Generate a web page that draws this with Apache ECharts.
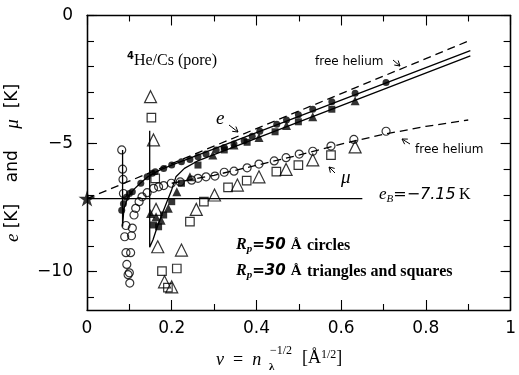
<!DOCTYPE html>
<html>
<head>
<meta charset="utf-8">
<script src="https://cdn.jsdelivr.net/npm/echarts@6/dist/echarts.min.js"></script>
<style>
  html, body { margin: 0; padding: 0; background: #fff; }
  #chart { width: 519px; height: 375px; }
</style>
</head>
<body>
<div id="chart"></div>
<script>
// ---- axis ticks ----
const xTickLabels = [0, 0.2, 0.4, 0.6, 0.8, 1];
const yTickLabels = [-10, -5, 0];
const yMinorTicks = [-11, -10, -9, -8, -7, -6, -5, -4, -3, -2, -1, 0];

// ---- reference values ----
const bindingEnergy = -7.15;          // e_B of a single atom on Cs
const bindingLine = [[0, -7.15], [0.65, -7.15]];
const bindingStar = [[0, -7.15]];

// free-helium energy per particle e(nu) and chemical potential mu(nu)
const eFreeHelium = [[0, -7.15], [0.9, -1.0]];
const muFreeHelium = [[0.2, -6.55], [0.3, -6.24], [0.4, -5.85], [0.5, -5.45], [0.6, -5.02],
                      [0.7, -4.64], [0.8, -4.33], [0.9, -4.08]];

// fitted energy curves: R_p = 50 A and R_p = 30 A pores
const eCurve50 = [[0.084, -5.25], [0.084, -8.25], [0.087, -7.55], [0.097, -7.08], [0.11, -6.8],
                  [0.127, -6.53], [0.145, -6.28], [0.17, -6.05], [0.2, -5.84], [0.905, -1.37]];
const eCurve30 = [[0.148, -4.5], [0.148, -9.05], [0.156, -8.75], [0.165, -8.3], [0.175, -7.85],
                  [0.188, -7.3], [0.2, -6.8], [0.21, -6.3], [0.23, -5.97], [0.26, -5.69], [0.905, -1.58]];

// R_p = 50 A: energy (filled circles) and chemical potential (open circles)
const e50 = [[0.082, -7.6], [0.086, -7.35], [0.093, -7.1], [0.1, -6.95], [0.107, -6.88], [0.127, -6.55],
             [0.142, -6.3], [0.154, -6.16], [0.161, -6.1], [0.181, -5.97], [0.2, -5.84], [0.223, -5.71],
             [0.243, -5.62], [0.262, -5.52], [0.281, -5.41], [0.305, -5.25], [0.324, -5.15], [0.347, -5.02],
             [0.371, -4.89], [0.39, -4.72], [0.408, -4.52], [0.448, -4.25], [0.471, -4.08], [0.499, -3.88],
             [0.533, -3.66], [0.578, -3.37], [0.633, -3.04], [0.706, -2.62]];
const mu50 = [[0.082, -5.25], [0.084, -6.0], [0.085, -6.4], [0.086, -6.95], [0.092, -8.2], [0.107, -8.3],
              [0.089, -8.64], [0.105, -8.6], [0.092, -9.26], [0.103, -9.26], [0.094, -9.72], [0.1, -10.05],
              [0.097, -10.12], [0.101, -10.45], [0.111, -7.79], [0.115, -7.53], [0.123, -7.27], [0.13, -7.08],
              [0.142, -6.92], [0.157, -6.75], [0.169, -6.69], [0.181, -6.64], [0.199, -6.55], [0.22, -6.5],
              [0.247, -6.43], [0.262, -6.36], [0.281, -6.3], [0.302, -6.27], [0.324, -6.12], [0.347, -6.08],
              [0.378, -5.95], [0.406, -5.8], [0.442, -5.68], [0.47, -5.55], [0.501, -5.41], [0.533, -5.3],
              [0.576, -5.1], [0.63, -4.84], [0.706, -4.52]];

// R_p = 30 A: energy (filled triangles / squares) and chemical potential (open triangles / squares)
const e30Triangles = [[0.15, -7.73], [0.163, -7.86], [0.175, -8.0], [0.192, -7.53], [0.212, -6.88],
                      [0.243, -6.3], [0.297, -5.45], [0.347, -5.06], [0.406, -4.76], [0.471, -4.3],
                      [0.533, -3.95], [0.633, -3.33]];
const e30Squares = [[0.157, -8.18], [0.169, -8.25], [0.181, -7.79], [0.2, -7.27], [0.223, -6.55],
                    [0.262, -5.84], [0.324, -5.25], [0.378, -4.95], [0.444, -4.54], [0.499, -4.15],
                    [0.578, -3.66]];
const mu30Triangles = [[0.15, -3.17], [0.157, -4.86], [0.163, -7.57], [0.167, -9.03], [0.183, -10.4],
                       [0.2, -10.6], [0.223, -9.16], [0.258, -7.57], [0.301, -7.01], [0.355, -6.62],
                       [0.406, -6.3], [0.47, -6.01], [0.533, -5.64], [0.633, -5.13]];
const mu30Squares = [[0.152, -3.99], [0.161, -6.36], [0.177, -9.98], [0.191, -10.63], [0.212, -9.88],
                     [0.243, -8.05], [0.276, -7.27], [0.333, -6.71], [0.377, -6.45], [0.447, -6.1],
                     [0.499, -5.84], [0.576, -5.45]];

// ---- styling helpers ----
const INK = '#000';
const SANS = 'DejaVu Sans';
const SERIF = 'Liberation Serif';
const minus = v => (v < 0 ? '\u2212' + Math.abs(v) : String(v));
const STAR = 'path://M0,-1 L0.2245,-0.309 L0.951,-0.309 L0.363,0.118 L0.588,0.809 L0,0.382 L-0.588,0.809 L-0.363,0.118 L-0.951,-0.309 L-0.2245,-0.309 Z';

function curve(data, dashed) {
  return {
    type: 'line', data, symbol: 'none', silent: true, clip: false, z: 2,
    lineStyle: { color: INK, width: 1.3, type: dashed ? [8, 5] : 'solid' }
  };
}
function marks(data, symbol, size, filled) {
  return {
    type: 'scatter', data, symbol, symbolSize: size, clip: false, z: 3,
    itemStyle: filled
      ? { color: INK, borderWidth: 0 }
      : { color: 'rgba(0,0,0,0)', borderColor: INK, borderWidth: 1.2 }
  };
}
function arrow(x1, y1, x2, y2) {
  const a = Math.atan2(y2 - y1, x2 - x1), h = 5, w = 3;
  const bx = x2 - h * Math.cos(a), by = y2 - h * Math.sin(a);
  return [
    { type: 'line', shape: { x1, y1, x2, y2 }, style: { stroke: INK, lineWidth: 1 } },
    { type: 'polyline', shape: { points: [[bx - w * Math.sin(a), by + w * Math.cos(a)], [x2, y2],
      [bx + w * Math.sin(a), by - w * Math.cos(a)]] }, style: { stroke: INK, lineWidth: 1, fill: null } }
  ];
}

const axisLine = { show: true, onZero: false, lineStyle: { color: INK, width: 1.3 } };
function xAxisDef(position, showLabels) {
  return {
    type: 'value', position, min: 0, max: 1, interval: 0.2,
    axisLine,
    axisTick: { show: true, inside: true, length: 10, lineStyle: { color: INK, width: 1.1 } },
    minorTick: { show: true, splitNumber: 2, length: 6, lineStyle: { color: INK, width: 1.1 } },
    splitLine: { show: false }, minorSplitLine: { show: false },
    axisLabel: {
      show: showLabels, color: INK, fontFamily: SANS, fontSize: 17, margin: 10,
      formatter: v => (xTickLabels.some(t => Math.abs(t - v) < 1e-9) ? String(+v.toFixed(1)) : '')
    }
  };
}
function yAxisDef(position, ticks, len, showLabels) {
  return {
    type: 'value', position, min: -11.5, max: 0,
    axisLine,
    axisTick: { show: true, inside: true, length: len, customValues: ticks, lineStyle: { color: INK, width: 1.1 } },
    splitLine: { show: false },
    axisLabel: {
      show: showLabels, customValues: yTickLabels, color: INK, fontFamily: SANS, fontSize: 17, margin: 14,
      formatter: minus
    }
  };
}

const chart = echarts.init(document.getElementById('chart'), null, { renderer: 'canvas' });

chart.setOption({
  animation: false,
  backgroundColor: '#fff',
  grid: { left: 87, right: 2.5, top: 15.5, bottom: 65, containLabel: false },
  xAxis: [xAxisDef('bottom', true), xAxisDef('top', false)],
  yAxis: [
    yAxisDef('left', yTickLabels, 10, true),
    yAxisDef('left', yMinorTicks, 7, false),
    yAxisDef('right', yTickLabels, 10, false),
    yAxisDef('right', yMinorTicks, 7, false)
  ],
  series: [
    curve(bindingLine, false),
    curve(eFreeHelium, true),
    curve(muFreeHelium, true),
    curve(eCurve50, false),
    curve(eCurve30, false),
    marks(mu50, 'circle', 8, false),
    marks(mu30Triangles, 'triangle', 12, false),
    marks(mu30Squares, 'rect', 8.5, false),
    marks(e50, 'circle', 7, true),
    marks(e30Triangles, 'triangle', 9, true),
    marks(e30Squares, 'rect', 7, true),
    Object.assign(marks(bindingStar, STAR, [17, 16], true), { z: 4 })
  ],
  graphic: [
    // panel title
    { type: 'text', left: 127, top: 51, style: {
        text: '{s|4}{b|He/Cs (pore)}',
        rich: {
          s: { fontFamily: SANS, fontWeight: 'bold', fontSize: 10, lineHeight: 10, verticalAlign: 'top', fill: INK },
          b: { fontFamily: SERIF, fontSize: 16, lineHeight: 20, fill: INK }
        } } },
    // curve names
    { type: 'text', left: 315, top: 56, style: { text: 'free helium', font: '12px "DejaVu Sans"', fill: INK } },
    ...arrow(393, 60, 400, 66),
    { type: 'text', left: 415, top: 144, style: { text: 'free helium', font: '12px "DejaVu Sans"', fill: INK } },
    ...arrow(410, 144, 402, 139),
    { type: 'text', left: 216, top: 109, style: { text: 'e', font: 'italic 19px "Liberation Serif"', fill: INK } },
    ...arrow(229, 125, 238, 132),
    { type: 'text', left: 341, top: 168, style: { text: '\u03bc', font: 'italic 19px "Liberation Serif"', fill: INK } },
    ...arrow(335, 173, 329, 167),
    // binding energy
    { type: 'text', left: 379, top: 186, style: {
        text: '{i|e}{sub|B}{n|=\u22127.15} {r|K}',
        rich: {
          i: { font: 'italic 17px "Liberation Serif"', lineHeight: 20, fill: INK },
          sub: { font: 'italic 11px "Liberation Serif"', lineHeight: 10, verticalAlign: 'bottom', fill: INK },
          n: { font: 'italic 16px "DejaVu Sans"', lineHeight: 20, fill: INK },
          r: { font: '16px "Liberation Serif"', lineHeight: 20, fill: INK }
        } } },
    // pore radii
    { type: 'text', left: 236, top: 237, style: {
        text: '{i|R}{sub|p}{n|=50 }{r|\u00c5}',
        rich: {
          i: { font: 'italic bold 16px "Liberation Serif"', lineHeight: 20, fill: INK },
          sub: { font: 'italic bold 11px "Liberation Serif"', lineHeight: 10, verticalAlign: 'bottom', fill: INK },
          n: { font: 'italic bold 15px "DejaVu Sans"', lineHeight: 20, fill: INK },
          r: { font: 'bold 15px "Liberation Serif"', lineHeight: 20, fill: INK }
        } } },
    { type: 'text', left: 307, top: 238, style: { text: 'circles', font: 'bold 16px "Liberation Serif"', fill: INK } },
    { type: 'text', left: 236, top: 263, style: {
        text: '{i|R}{sub|p}{n|=30 }{r|\u00c5}',
        rich: {
          i: { font: 'italic bold 16px "Liberation Serif"', lineHeight: 20, fill: INK },
          sub: { font: 'italic bold 11px "Liberation Serif"', lineHeight: 10, verticalAlign: 'bottom', fill: INK },
          n: { font: 'italic bold 15px "DejaVu Sans"', lineHeight: 20, fill: INK },
          r: { font: 'bold 15px "Liberation Serif"', lineHeight: 20, fill: INK }
        } } },
    { type: 'text', left: 307, top: 264, style: { text: 'triangles and squares', font: 'bold 16px "Liberation Serif"', fill: INK } },
    // y axis title
    { type: 'text', x: 13, y: 163, rotation: Math.PI / 2, style: {
        text: '{i|e} [K]    and    {i|\u03bc}  [K]', align: 'center', verticalAlign: 'middle',
        font: '17px "DejaVu Sans"', fill: INK,
        rich: { i: { font: 'italic 19px "Liberation Serif"', fill: INK } } } },
    // x axis title
    { type: 'text', left: 216, top: 351, style: {
        text: '{i|\u03bd}  =  {i|n}', font: '18px "Liberation Serif"', fill: INK,
        rich: { i: { font: 'italic 18px "Liberation Serif"', fill: INK } } } },
    { type: 'text', left: 270, top: 345, style: { text: '\u22121/2', font: '12px "Liberation Serif"', fill: INK } },
    { type: 'text', left: 269, top: 362, style: { text: '\u03bb', font: 'bold 11px "Liberation Serif"', fill: INK } },
    { type: 'text', left: 302, top: 349, style: {
        text: '[\u00c5{sup|1/2}]', font: '18px "Liberation Serif"', fill: INK,
        rich: { sup: { font: '12px "Liberation Serif"', lineHeight: 10, verticalAlign: 'top', fill: INK } } } }
  ]
});
</script>
</body>
</html>
